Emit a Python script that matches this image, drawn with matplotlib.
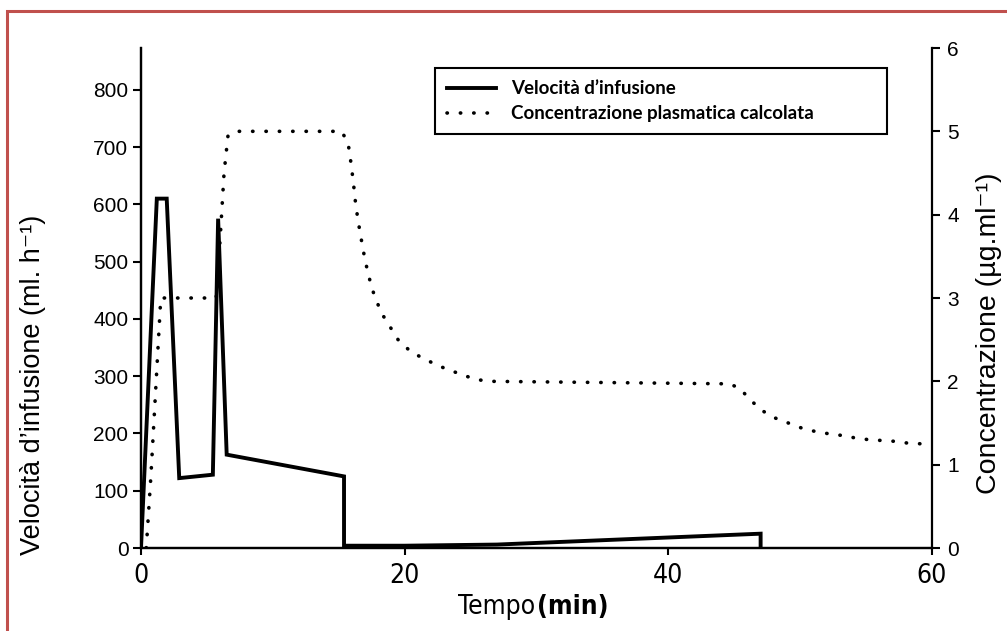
from matplotlib import pyplot as plt
from matplotlib import font_manager
from matplotlib.font_manager import FontProperties
from matplotlib.patches import Rectangle
from matplotlib.lines import Line2D

# velocità d'infusione (ml/h)
rate_t = [0, 1.2, 1.95, 2.9, 5.45, 5.85, 6.5, 15.4, 15.4, 20, 27, 47, 47]
rate_v = [0, 610, 610, 122, 128, 575, 163, 125, 4, 4, 6, 25, 0]

# concentrazione plasmatica calcolata (µg/ml)
conc_t = [0.4, 0.75, 1.5, 5.7, 6.0, 6.3, 6.6, 7.2, 15.2, 15.7, 15.9, 16.1, 16.3, 16.6,
          17.0, 17.5, 18.2, 19.5, 20.5, 21.5, 22.5, 23.5, 24.5, 25.5, 26.5, 44.6,
          45.4, 46.2, 47.1, 48.1, 49.1, 50.1, 51.1, 52.2, 53.2, 54.2, 55.2, 56.2,
          57.2, 58.1, 59.2]
conc_v = [0, 0.86, 3.0, 3.0, 3.7, 4.5, 4.95, 5.0, 5.0, 4.87, 4.65, 4.4, 4.1, 3.8,
          3.45, 3.12, 2.83, 2.5, 2.35, 2.27, 2.19, 2.13, 2.07, 2.02, 2.0, 1.97,
          1.92, 1.78, 1.65, 1.56, 1.50, 1.44, 1.40, 1.37, 1.35, 1.32, 1.30, 1.29,
          1.28, 1.26, 1.25]

left_ticks = [0, 100, 200, 300, 400, 500, 600, 700, 800]
right_ticks = [0, 1, 2, 3, 4, 5, 6]
x_ticks = [0, 20, 40, 60]

plt.rcParams["font.family"] = ["Liberation Sans", "DejaVu Sans"]


# cerca un font stretto (narrow / condensed) se c'è, altrimenti Liberation Sans
def narrow_font(size, bold=False):
    for f in font_manager.fontManager.ttflist:
        is_narrow = "Narrow" in f.name or "ondensed" in str(f.stretch)
        is_bold = f.weight in ("bold", 700) or (isinstance(f.weight, int) and f.weight >= 700)
        if is_narrow and is_bold == bold and f.style == "normal" and "Sans" in f.name:
            return FontProperties(fname=f.fname, size=size)
    return FontProperties(family="Liberation Sans", size=size,
                          weight="bold" if bold else "normal")


W, H = 1007, 631
fig = plt.figure(figsize=(W / 100, H / 100), dpi=100)
ax = fig.add_axes([141 / W, 1 - 548 / H, (932 - 141) / W, (548 - 48) / H])
ax2 = ax.twinx()

ax.plot(rate_t, rate_v, color="black", lw=2.8, solid_joinstyle="miter")
ax2.plot(conc_t, conc_v, color="black", lw=2.6, linestyle=(0, (0.1, 3.6)),
         dash_capstyle="round")

ax.set_xlim(0, 60)
ax.set_ylim(0, 873)
ax2.set_ylim(0, 6)

for a in (ax, ax2):
    a.spines["top"].set_visible(False)
    for s in ("left", "right", "bottom"):
        a.spines[s].set_linewidth(1.6)
ax.spines["right"].set_visible(False)

ax.set_yticks(left_ticks)
ax2.set_yticks(right_ticks)
ax.set_xticks(x_ticks, [str(v) for v in x_ticks], fontproperties=narrow_font(19))
ax.tick_params(axis="y", length=6, width=1.5, labelsize=15, pad=3)
ax2.tick_params(axis="y", length=6, width=1.5, labelsize=15, pad=5)
ax.tick_params(axis="x", length=5, width=1.5, pad=6)

ax.set_ylabel("Velocità d’infusione (ml. h⁻¹)", fontsize=19.5)
ax.yaxis.set_label_coords(-0.12, 0.326)
ax2.set_ylabel("Concentrazione (µg.ml⁻¹)", fontsize=20.5)
ax2.yaxis.set_label_coords(1.056, 0.43)

fig.text(535 / W, 1 - 607 / H, "Tempo", ha="right", va="center", fontproperties=narrow_font(19))
fig.text(537 / W, 1 - 607 / H, "(min)", ha="left", va="center", fontproperties=narrow_font(19, True))

handles = [Line2D([], [], color="black", lw=2.8),
           Line2D([], [], color="black", lw=2.6, linestyle=(0, (0.1, 3.6)), dash_capstyle="round")]
leg = ax2.legend(handles, ["Velocità d’infusione", "Concentrazione plasmatica calcolata"],
                 loc="upper left", bbox_to_anchor=(435 / W, 1 - 135 / H, (887 - 435) / W, (135 - 68) / H),
                 bbox_transform=fig.transFigure, mode="expand", fancybox=False,
                 edgecolor="black", framealpha=1, handlelength=2.6, handletextpad=0.8,
                 borderpad=0.65, labelspacing=0.43, borderaxespad=0,
                 prop={"family": ["Lato", "DejaVu Sans"], "weight": "bold", "size": 13.5})
leg.get_frame().set_linewidth(1.5)

fig.add_artist(Rectangle((7 / W, -0.1), 1.2, 1 - 11 / H + 0.1, transform=fig.transFigure,
                         fill=False, edgecolor="#c0504d", lw=2.2))

plt.savefig("out.png")
